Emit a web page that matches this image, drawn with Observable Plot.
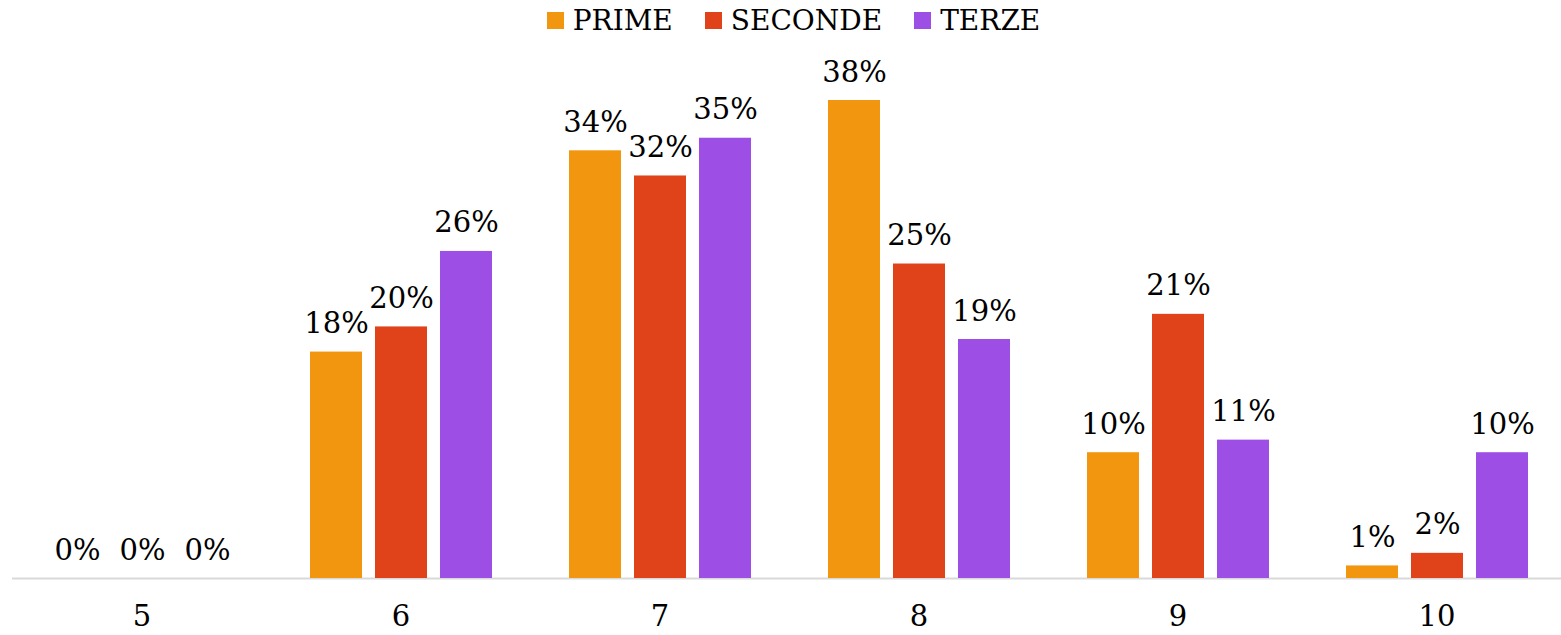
<!DOCTYPE html>
<html>
<head>
<meta charset="utf-8">
<script src="https://cdn.jsdelivr.net/npm/d3@7"></script>
<script src="https://cdn.jsdelivr.net/npm/@observablehq/plot@0.6"></script>
<style>
  html, body { margin: 0; padding: 0; background: #fff; }
  body { width: 1561px; height: 635px; overflow: hidden; font-family: "DejaVu Serif", serif; }
  #legend { height: 40px; display: flex; justify-content: center; align-items: center; font-size: 28px; color: #000; padding-left: 26px; }
  .item { display: flex; align-items: center; margin: 0 16px; }
  .sw { width: 17px; height: 17px; margin-right: 9px; }
  svg { display: block; }
</style>
</head>
<body>
<div id="legend"></div>
<div id="chart"></div>
<script>
const categories = ["5", "6", "7", "8", "9", "10"];
const series = ["PRIME", "SECONDE", "TERZE"];
const colors = ["#F2960F", "#E0431A", "#9D4EE5"];
const prime =   [0, 18, 34, 38, 10, 1];
const seconde = [0, 20, 32, 25, 21, 2];
const terze =   [0, 26, 35, 19, 11, 10];

const valuesBySeries = [prime, seconde, terze];
const data = [];
categories.forEach((c, i) => {
  series.forEach((s, j) => {
    data.push({category: c, series: s, value: valuesBySeries[j][i]});
  });
});

const legend = document.getElementById("legend");
series.forEach((s, j) => {
  const it = document.createElement("div");
  it.className = "item";
  it.innerHTML = `<div class="sw" style="background:${colors[j]}"></div><span>${s}</span>`;
  legend.appendChild(it);
});

const font = "DejaVu Serif";
const chart = Plot.plot({
  width: 1561,
  height: 595,
  marginTop: 0,
  marginLeft: 0,
  marginRight: 0,
  marginBottom: 57,
  style: {fontFamily: font, fontSize: "29px", color: "#000", background: "#fff"},
  fx: {domain: categories, padding: 0, range: [11.5, 1566.5], label: null, tickSize: 0, tickPadding: 27, axis: "bottom"},
  x: {domain: series, paddingInner: 0.2, paddingOuter: 0.59, axis: null},
  y: {domain: [0, 38], range: [538, 60], axis: null},
  color: {domain: series, range: colors},
  marks: [
    Plot.ruleY([0], {stroke: "#d9d9d9", strokeWidth: 2}),
    Plot.barY(data, {fx: "category", x: "series", y: "value", fill: "series"}),
    Plot.text(data, {fx: "category", x: "series", y: "value", text: d => d.value + "%", lineAnchor: "bottom", dy: -19, fill: "#000", fontSize: 29, fontFamily: font})
  ]
});
document.getElementById("chart").appendChild(chart);
</script>
</body>
</html>
